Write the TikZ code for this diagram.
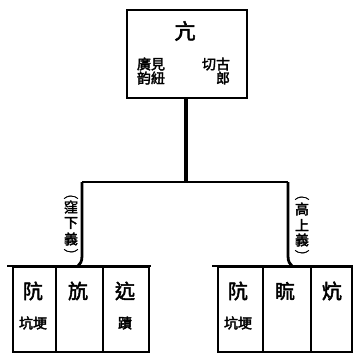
\documentclass[tikz,border=0pt]{standalone}
\usepackage{fontspec}
\newfontfamily\cjk[FakeBold=2.5]{Noto Sans CJK TC}
\newfontfamily\parfont[FakeBold=2]{Latin Modern Roman}
\begin{document}
\begin{tikzpicture}[x=1pt,y=-1pt,
  boxstyle/.style={draw=black,line width=2pt,rectangle,inner sep=0pt,anchor=north west},
  wire/.style={draw=black,line width=2.2pt},
  stem/.style={draw=black,line width=4pt},
  bigc/.style={inner sep=0pt,font=\cjk\fontsize{21}{21}\selectfont},
  midc/.style={inner sep=0pt,font=\cjk\fontsize{20}{20}\selectfont},
  smallc/.style={inner sep=0pt,font=\cjk\fontsize{14}{14}\selectfont},
  labc/.style={inner sep=0pt,font=\cjk\fontsize{14}{14}\selectfont},
  paren/.style={inner sep=0pt,rotate=-90,font=\parfont\fontsize{14}{14}\selectfont}]
\useasboundingbox (0,0) rectangle (353,354);
% top box
\node[boxstyle,minimum width=120pt,minimum height=88pt] (top) at (126,9) {};
\node[bigc] (k) at (185,31) {亢};
\node[smallc] (t1) at (151,64) {廣見};
\node[smallc] (t2) at (151,78) {韵紐};
\node[smallc] (t3) at (216,64) {切古};
\node[smallc] (t4) at (223,78) {郎};
% joints
\coordinate (j) at (186,182);
\coordinate (jl) at (82,182);
\coordinate (jr) at (288,182);
\coordinate (gl) at (78,266);
\coordinate (gr) at (292,266);
\draw[stem] (top.south -| j) -- (j);
\draw[wire] (jl) -- (jr);
\draw[wire,line width=2.8pt] (jl) -- (82,256) .. controls (82,262) and (80,264) .. (gl);
\draw[wire,line width=2.8pt] (jr) -- (288,256) .. controls (288,262) and (290,264) .. (gr);
% labels
\node[paren] (lp1) at (71,197) {(};
\node[labc] (l1) at (71,207) {窪};
\node[labc] (l2) at (71,223) {下};
\node[labc] (l3) at (71,239) {義};
\node[paren] (lp2) at (71,251) {)};
\node[paren] (rp1) at (302,198) {(};
\node[labc] (r1) at (302,209) {高};
\node[labc] (r2) at (302,225) {上};
\node[labc] (r3) at (302,240) {義};
\node[paren] (rp2) at (302,252) {)};
% left group
\coordinate (glw) at (7,266);
\coordinate (gle) at (151,266);
\draw[wire] (glw) -- (gle);
\node[boxstyle,minimum width=43pt,minimum height=85pt] (a1) at (12,266) {};
\node[boxstyle,minimum width=47pt,minimum height=85pt] (a2) at (55,266) {};
\node[boxstyle,minimum width=46pt,minimum height=85pt] (a3) at (102,266) {};
\node[midc] (a1c) at (33,291) {阬};
\node[smallc] (a1s) at (33,323) {坑埂};
\node[midc] (a2c) at (78,291) {斻};
\node[midc] (a3c) at (125,291) {迒};
\node[smallc] (a3s) at (125,323) {蹟};
% right group
\coordinate (grw) at (212,266);
\coordinate (gre) at (353,266);
\draw[wire] (grw) -- (gre);
\node[boxstyle,minimum width=45pt,minimum height=85pt] (b1) at (217,266) {};
\node[boxstyle,minimum width=48pt,minimum height=85pt] (b2) at (262,266) {};
\node[boxstyle,minimum width=41pt,minimum height=85pt] (b3) at (310,266) {};
\node[midc] (b1c) at (238,291) {阬};
\node[smallc] (b1s) at (238,323) {坑埂};
\node[midc] (b2c) at (285,291) {\char"402E};
\node[midc] (b3c) at (332,291) {炕};
\end{tikzpicture}
\end{document}
